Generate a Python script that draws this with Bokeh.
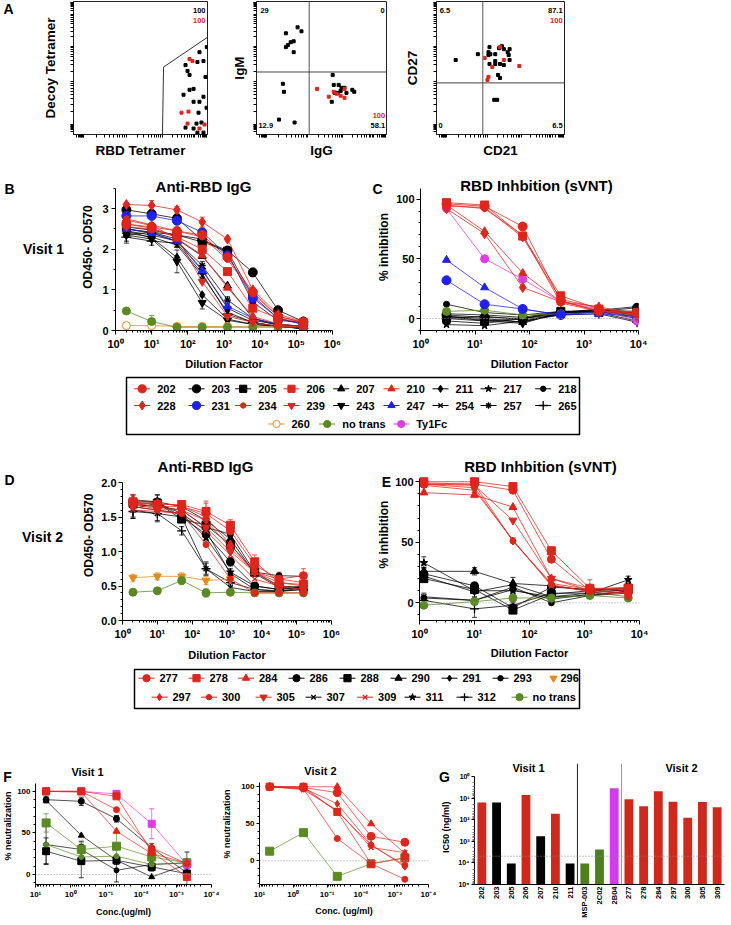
import math
from bokeh.plotting import figure
from bokeh.layouts import column, row
from bokeh.models import (Range1d, FixedTicker, Label, Span, Whisker, TeeHead,
                          ColumnDataSource)
from bokeh.core.properties import value
from bokeh.embed import file_html
from bokeh.resources import INLINE

FONT = "Liberation Sans"

# ============================ DATA ============================
# Panel A - flow cytometry events (arbitrary channel units, 0-1000)
A1_rbd_black = [995, 940, 970, 925, 836, 851, 866, 985, 896, 866, 821, 970, 896, 940, 993, 933, 918, 955, 836, 896, 925, 970]
A1_decoy_black = [657, 619, 552, 545, 522, 478, 448, 433, 343, 336, 299, 284, 246, 246, 201, 164, 82, 90, 52, 45, 14, 14]
A1_rbd_red = [866, 888, 806, 858, 851, 940, 978]
A1_decoy_red = [567, 552, 164, 172, 82, 45, 75]
A1_gate_x = [664, 672, 1000]
A1_gate_y = [0, 507, 731]
A1_pct = ["100", "100"]

A2_igg_black = [316, 346, 226, 286, 263, 241, 226, 286, 203, 211, 173, 293, 586, 594, 632, 654, 647, 624, 692, 737, 752, 602, 579, 677]
A2_igm_black = [806, 776, 761, 701, 694, 672, 657, 619, 381, 321, 112, 90, 448, 373, 373, 351, 328, 313, 313, 336, 321, 313, 246, 351]
A2_igg_red = [466, 594, 556, 617, 647, 677, 677]
A2_igm_red = [343, 321, 284, 306, 291, 276, 343]
A2_gate = (406, 470)
A2_pct = ["29", "0", "12.9", "58.1", "100"]

A3_cd21_black = [150, 323, 414, 406, 421, 406, 459, 489, 511, 526, 556, 571, 564, 571, 459, 414, 459, 496, 526, 481, 496, 451, 474]
A3_cd27_black = [560, 604, 657, 619, 604, 597, 604, 649, 664, 642, 619, 642, 597, 560, 552, 530, 530, 530, 522, 448, 425, 261, 261]
A3_cd21_red = [376, 436, 526, 647, 406, 398, 496]
A3_cd27_red = [575, 507, 560, 515, 433, 410, 657]
A3_gate = (361, 388)
A3_pct = ["6.5", "87.1", "100", "0", "6.5"]

# Panel B - Anti-RBD IgG, visit 1 (OD450-OD570)
B_dilution = [2, 10, 50, 250, 1250, 6250, 31250, 156250]
B_od = {
    "203": [2.97, 2.87, 2.76, 2.22, 1.97, 1.43, 0.50, 0.22],
    "205": [2.55, 2.47, 2.35, 2.18, 1.95, 0.85, 0.30, 0.15],
    "207": [2.50, 2.42, 2.25, 1.83, 1.10, 0.30, 0.12, 0.06],
    "211": [2.45, 2.28, 1.80, 0.88, 0.28, 0.15, 0.10, 0.05],
    "217": [2.50, 2.40, 2.20, 1.50, 0.55, 0.25, 0.15, 0.10],
    "218": [2.35, 2.42, 2.35, 2.25, 1.90, 0.70, 0.25, 0.20],
    "243": [2.35, 2.25, 1.70, 0.68, 0.25, 0.15, 0.10, 0.05],
    "254": [2.40, 2.30, 2.10, 1.35, 0.45, 0.20, 0.10, 0.05],
    "257": [2.45, 2.35, 2.20, 1.60, 0.75, 0.30, 0.15, 0.10],
    "265": [2.30, 2.20, 2.15, 1.40, 0.40, 0.20, 0.10, 0.05],
    "260": [0.12, 0.12, 0.10, 0.10, 0.10, 0.10, 0.10, 0.10],
    "no trans": [0.48, 0.22, 0.08, 0.08, 0.08, 0.08, 0.08, 0.08],
    "231": [2.82, 2.82, 2.70, 2.42, 1.85, 0.80, 0.30, 0.15],
    "247": [2.50, 2.40, 2.20, 1.47, 0.60, 0.30, 0.15, 0.10],
    "202": [2.62, 2.55, 2.45, 2.35, 1.80, 0.95, 0.35, 0.20],
    "206": [2.62, 2.52, 2.30, 2.00, 1.45, 0.55, 0.30, 0.20],
    "210": [2.72, 2.58, 2.27, 1.85, 1.05, 0.35, 0.16, 0.10],
    "228": [3.10, 3.08, 2.97, 2.67, 2.25, 1.00, 0.40, 0.22],
    "234": [2.75, 2.60, 2.45, 2.30, 1.75, 0.90, 0.35, 0.20],
    "239": [2.55, 2.50, 2.30, 1.20, 0.35, 0.20, 0.10, 0.10],
}
B_err = {
    "243": [0.20, 0.05, 0.28, 0.15, 0.05, 0.03, 0.02, 0.02],
    "203": [0.05, 0.10, 0.10, 0.10, 0.08, 0.10, 0.05, 0.05],
    "228": [0.05, 0.12, 0.08, 0.12, 0.05, 0.05, 0.03, 0.03],
    "no trans": [0.03, 0.15, 0.02, 0.02, 0.02, 0.02, 0.02, 0.02],
    "265": [0.10, 0.10, 0.10, 0.12, 0.10, 0.05, 0.03, 0.03],
    "257": [0.08, 0.08, 0.12, 0.10, 0.08, 0.05, 0.03, 0.08],
}

# Panel C - RBD inhibition (sVNT), visit 1 (%)
C_dilution = [3, 15, 75, 375, 1875, 9375]
C_inhib = {
    "203": [3, 1, 0, 5, 6, 9],
    "205": [0, -2, 0, 6, 5, 5],
    "207": [2, 0, -3, 4, 7, 6],
    "211": [1, -1, -3, 5, 8, 4],
    "217": [-5, -6, -2, 3, 6, 2],
    "218": [12, 5, 3, 6, 7, 10],
    "243": [2, -2, -4, 5, 7, 3],
    "254": [-2, -4, 0, 4, 6, 0],
    "257": [4, 3, 1, 6, 5, -2],
    "265": [0, 2, -1, 3, 4, -3],
    "no trans": [6, 7, 3, 4, 5, 3],
    "231": [32, 12, 8, 3, 6, 1],
    "247": [49, 26, 8, 3, 4, 2],
    "Ty1Fc": [92, 50, 33, 14, 8, -2],
    "202": [96, 94, 77, 15, 6, 5],
    "206": [97, 95, 69, 19, 8, 5],
    "210": [95, 73, 38, 14, 10, 3],
    "228": [92, 71, 26, 14, 7, 3],
    "234": [95, 92, 70, 13, 6, 4],
    "239": [94, 93, 68, 16, 9, 2],
}

# Panel D - Anti-RBD IgG, visit 2
D_dilution = [2, 10, 50, 250, 1250, 6250, 31250, 156250]
D_od = {
    "286": [1.72, 1.72, 1.50, 1.25, 0.85, 0.50, 0.45, 0.48],
    "288": [1.70, 1.70, 1.47, 1.38, 1.10, 0.70, 0.50, 0.48],
    "290": [1.75, 1.72, 1.65, 1.45, 1.18, 0.68, 0.48, 0.48],
    "291": [1.65, 1.60, 1.55, 1.30, 0.68, 0.45, 0.43, 0.45],
    "293": [1.68, 1.65, 1.60, 1.35, 1.25, 0.70, 0.65, 0.64],
    "307": [1.60, 1.55, 1.50, 0.75, 0.48, 0.42, 0.42, 0.45],
    "311": [1.62, 1.70, 1.55, 1.20, 0.70, 0.50, 0.45, 0.50],
    "312": [1.58, 1.55, 1.30, 0.75, 0.55, 0.45, 0.42, 0.48],
    "296": [0.62, 0.64, 0.64, 0.58, 0.60],
    "no trans": [0.41, 0.43, 0.58, 0.40, 0.41, 0.40, 0.40, 0.40],
    "277": [1.70, 1.65, 1.65, 1.55, 1.30, 0.80, 0.60, 0.65],
    "278": [1.72, 1.68, 1.68, 1.58, 1.38, 0.85, 0.55, 0.52],
    "284": [1.75, 1.70, 1.66, 1.50, 1.10, 0.70, 0.50, 0.45],
    "297": [1.68, 1.62, 1.60, 1.45, 1.05, 0.70, 0.55, 0.50],
    "300": [1.65, 1.60, 1.55, 1.10, 0.60, 0.40, 0.40, 0.40],
    "305": [1.70, 1.65, 1.60, 1.35, 1.00, 0.70, 0.60, 0.55],
    "309": [1.60, 1.58, 1.55, 1.30, 0.95, 0.60, 0.50, 0.45],
}
D_err = {
    "277": [0.12, 0.10, 0.06, 0.15, 0.08, 0.10, 0.10, 0.10],
    "278": [0.10, 0.08, 0.05, 0.15, 0.08, 0.10, 0.12, 0.10],
    "286": [0.10, 0.10, 0.05, 0.08, 0.06, 0.05, 0.05, 0.05],
    "307": [0.12, 0.10, 0.06, 0.10, 0.05, 0.05, 0.05, 0.05],
    "311": [0.12, 0.12, 0.05, 0.08, 0.05, 0.05, 0.05, 0.05],
    "312": [0.10, 0.12, 0.06, 0.08, 0.06, 0.05, 0.05, 0.05],
    "296": [0.05, 0.05, 0.05, 0.06, 0.05],
    "no trans": [0.04, 0.03, 0.06, 0.06, 0.05, 0.04, 0.04, 0.04],
}

# Panel E - RBD inhibition (sVNT), visit 2 (%)
E_dilution = [1.2, 10, 50, 250, 1250, 6250]
E_inhib = {
    "286": [24, 14, -4, 13, 11, 10],
    "288": [20, 11, -6, 7, 10, 12],
    "290": [26, 26, 16, 14, 10, 12],
    "291": [22, 9, 15, 5, 6, 8],
    "293": [4, 2, 13, 0, 6, 10],
    "307": [5, 2, 11, 3, 7, 9],
    "311": [33, 10, 10, 5, 8, 19],
    "312": [2, -5, -2, 8, 8, 11],
    "no trans": [-2, 1, 4, 4, 6, 4],
    "277": [98, 98, 93, 36, 10, 8],
    "278": [100, 100, 96, 43, 12, 12],
    "284": [91, 89, 79, 20, 12, 10],
    "297": [99, 98, 51, 16, 11, 13],
    "300": [98, 95, 51, 15, 9, 5],
    "305": [98, 97, 68, 20, 10, 8],
    "309": [97, 93, 52, 14, 10, 12],
}
E_err = {
    "311": [5, 5, 4, 4, 3, 3],
    "286": [5, 3, 4, 3, 3, 6],
    "312": [6, 7, 3, 3, 3, 3],
    "290": [3, 3, 5, 3, 3, 4],
    "278": [1, 1, 1, 3, 7, 2],
}

# Panel F - pseudovirus neutralization (%), concentration in ug/ml
F_conc = [5, 0.5, 0.05, 0.005, 0.0005]
F1_neut = {
    "black square": [28, 16, 17, 9, 1],
    "black dot": [36, 30, 5, 12, 14],
    "black triangle": [89, 47, 17, -3, 12],
    "black circle": [90, 88, 67, 32, 2],
    "green circle": [36, 21, 22, 12, 14],
    "green square": [62, 30, 34, 21, 14],
    "magenta square": [100, 100, 97, 61, 12],
    "red triangle": [100, 99, 52, 25, 14],
    "red circle": [100, 100, 78, 32, 13],
    "red square": [100, 100, 94, 27, -3],
}
F1_err = {
    "black circle": [4, 5, 4, 5, 5],
    "black square": [16, 20, 5, 5, 13],
    "black dot": [23, 10, 14, 3, 13],
    "green square": [11, 8, 16, 5, 5],
    "magenta square": [0, 0, 4, 18, 5],
}
F2_neut = {
    "green square": [13, 38, -21, -4, 4],
    "red circle b": [100, 97, 30, -4, -25],
    "red diamond": [100, 98, 77, 22, -8],
    "red circle c": [100, 98, 67, 21, -6],
    "red x": [100, 96, 68, 18, 11],
    "red circle a": [100, 99, 92, 33, 25],
    "red triangle": [100, 100, 100, 50, 10],
    "red square": [100, 100, 66, -4, 4],
}

# Panel G - IC50 (position on the printed log axis, in decades from the top label)
G_samples = ["202", "203", "205", "206", "207", "210", "211", "MSP-003", "2C02", "2B04",
             "277", "278", "284", "297", "300", "305", "309"]
G_ic50_decade = [1.20, 1.20, 4.03, 0.86, 2.77, 1.72, 4.03, 4.03, 3.38, 0.55,
                 1.05, 1.38, 0.69, 1.17, 1.91, 1.18, 1.43]
G_class = ["neut", "non", "non", "neut", "non", "neut", "non", "ctrl", "ctrl", "Ty1Fc",
           "neut", "neut", "neut", "neut", "neut", "neut", "neut"]
G_group = ["Visit 1"] * 7 + ["control"] * 3 + ["Visit 2"] * 7
G_limit_decade = 3.69

# ============================ STYLE ============================
RED = "#e1251b"
BLACK = "#000000"
BLUE = "#2020f2"
GREEN = "#5a8a22"
ORANGE = "#e8891c"
MAGENTA = "#e03ce6"

V1_STYLE = {
    "202": ("circle", RED, 9, True), "203": ("circle", BLACK, 9, True),
    "205": ("square", BLACK, 8, True), "206": ("square", RED, 8, True),
    "207": ("triangle", BLACK, 8, True), "210": ("triangle", RED, 8, True),
    "211": ("diamond", BLACK, 8, True), "217": ("star", BLACK, 8, True),
    "218": ("circle", BLACK, 6, True), "228": ("diamond", RED, 10, True),
    "231": ("circle", BLUE, 9, True), "234": ("circle", RED, 6, True),
    "239": ("inverted_triangle", RED, 8, True), "243": ("inverted_triangle", BLACK, 8, True),
    "247": ("triangle", BLUE, 8, True), "254": ("x", BLACK, 7, True),
    "257": ("asterisk", BLACK, 7, True), "265": ("cross", BLACK, 10, True),
    "260": ("circle", ORANGE, 8, False), "no trans": ("circle", GREEN, 8, True),
    "Ty1Fc": ("circle", MAGENTA, 8, True),
}
V2_STYLE = {
    "277": ("circle", RED, 8, True), "278": ("square", RED, 8, True),
    "284": ("triangle", RED, 8, True), "286": ("circle", BLACK, 8, True),
    "288": ("square", BLACK, 8, True), "290": ("triangle", BLACK, 8, True),
    "291": ("diamond", BLACK, 7, True), "293": ("circle", BLACK, 6, True),
    "296": ("inverted_triangle", ORANGE, 8, True), "297": ("diamond", RED, 8, True),
    "300": ("circle", RED, 6, True), "305": ("inverted_triangle", RED, 8, True),
    "307": ("x", BLACK, 7, True), "309": ("x", RED, 7, True),
    "311": ("star", BLACK, 8, True), "312": ("cross", BLACK, 9, True),
    "no trans": ("circle", GREEN, 8, True),
}
F_STYLE = {
    "black square": ("square", BLACK, 7, True), "black dot": ("circle", BLACK, 5, True),
    "black triangle": ("triangle", BLACK, 6, True), "black circle": ("circle", BLACK, 6, True),
    "green circle": ("circle", GREEN, 5, True), "green square": ("square", GREEN, 8, True),
    "magenta square": ("square", MAGENTA, 7, True), "red triangle": ("triangle", RED, 7, True),
    "red circle": ("circle", RED, 6, True), "red square": ("square", RED, 7, True),
    "red circle a": ("circle", RED, 8, True), "red circle b": ("circle", RED, 6, True),
    "red circle c": ("circle", RED, 6, True), "red diamond": ("diamond", RED, 7, True),
    "red x": ("x", RED, 7, True),
}
G_COLOR = {"neut": "#d3271c", "non": "#000000", "ctrl": "#4f7f1a", "Ty1Fc": "#d23bef"}

SUP = str.maketrans("-0123456789", "⁻⁰¹²³⁴⁵⁶⁷⁸⁹")


def pow10(n):
    return "10" + str(n).translate(SUP)


def log_minor(d0, d1):
    return [k * 10 ** d for d in range(d0, d1) for k in range(2, 10)]


class Panel:
    """A figure whose frame sits at a given page-pixel box (page origin = top-left)."""

    def __init__(self, box, frame, xr, yr, xlog=False, ylog=False, outline=False, axes=True):
        self.box, self.frame, self.xr, self.yr = box, frame, xr, yr
        self.xlog, self.ylog = xlog, ylog
        bx0, by0, bx1, by1 = box
        fx0, fy0, fx1, fy1 = frame
        kw = {}
        if not axes:
            kw = dict(x_axis_location=None, y_axis_location=None)
        self.p = figure(width=bx1 - bx0, height=by1 - by0,
                        x_range=Range1d(*xr), y_range=Range1d(*yr),
                        x_axis_type="log" if xlog else "linear",
                        y_axis_type="log" if ylog else "linear",
                        min_border_left=fx0 - bx0, min_border_right=bx1 - fx1,
                        min_border_top=fy0 - by0, min_border_bottom=by1 - fy1,
                        toolbar_location=None, output_backend="svg", **kw)
        p = self.p
        p.xgrid.visible = False
        p.ygrid.visible = False
        p.outline_line_color = "#222222" if outline else None
        p.outline_line_width = 1
        p.background_fill_color = "white"
        p.border_fill_color = "white"

    def to_data(self, px, py):
        fx0, fy0, fx1, fy1 = self.frame
        tx = (px - fx0) / (fx1 - fx0)
        ty = (fy1 - py) / (fy1 - fy0)

        def interp(t, r, lg):
            a, b = r
            if lg:
                return 10 ** (math.log10(a) + t * (math.log10(b) - math.log10(a)))
            return a + t * (b - a)
        return interp(tx, self.xr, self.xlog), interp(ty, self.yr, self.ylog)

    def text(self, px, py, txt, size, color="black", align="center", angle=0.0, bold=True):
        x, y = self.to_data(px, py)
        self.p.add_layout(Label(x=x, y=y, text=txt, text_font=FONT, text_font_size=size,
                                text_font_style="bold" if bold else "normal",
                                text_color=color, text_align=align,
                                text_baseline="middle", angle=angle))


def strip(box):
    """Text-only figure covering a page box; its data coordinates are page pixels."""
    return Panel(box, box, (box[0], box[2]), (box[3], box[1]), axes=False)


def style_axis(ax, ticks, minor, labels=None, size="11px", tick_out=4, minor_out=2, standoff=3):
    ax.ticker = FixedTicker(ticks=ticks, minor_ticks=minor)
    if labels:
        ax.major_label_overrides = labels
    ax.major_label_text_font = FONT
    ax.major_label_text_font_style = "bold"
    ax.major_label_text_font_size = size
    ax.major_label_text_color = "black"
    ax.major_label_standoff = standoff
    ax.axis_line_color = "black"
    ax.axis_line_width = 1
    ax.major_tick_in = 0
    ax.major_tick_out = tick_out
    ax.minor_tick_in = 0
    ax.minor_tick_out = minor_out
    ax.major_tick_line_color = "black"
    ax.minor_tick_line_color = "black"


def axis_title(ax, text, size, standoff):
    ax.axis_label = text
    ax.axis_label_text_font = FONT
    ax.axis_label_text_font_size = size
    ax.axis_label_text_font_style = "bold"
    ax.axis_label_text_color = "black"
    ax.axis_label_standoff = standoff


def add_err(p, xs, ys, es, color):
    src = ColumnDataSource(dict(x=list(xs), lo=[y - e for y, e in zip(ys, es)],
                                hi=[y + e for y, e in zip(ys, es)]))
    p.add_layout(Whisker(source=src, base="x", lower="lo", upper="hi",
                         line_color=color, line_width=0.8, line_alpha=0.8,
                         upper_head=TeeHead(size=5, line_color=color, line_width=0.8),
                         lower_head=TeeHead(size=5, line_color=color, line_width=0.8)))


def draw_series(p, xs, ys, style, err=None, lw=0.9):
    marker, color, size, filled = style
    xs = list(xs)[:len(ys)]
    p.line(xs, ys, line_color=color, line_width=lw, line_alpha=0.85)
    if err is not None:
        add_err(p, xs, ys, err, color)
    thin = marker in ("x", "cross", "asterisk")
    p.scatter(xs, ys, marker=marker, size=size,
              fill_color=color if filled else "white", line_color=color,
              line_width=1.3 if thin else 1)


# ============================ PANEL A ============================
FLOW_MAJOR = [75, 396, 664, 903]
FLOW_MINOR = [a + (b - a) * math.log10(k) for a, b in zip([0] + FLOW_MAJOR[:-1], FLOW_MAJOR)
              for k in range(2, 10)] + [903 + 97 * math.log10(k) for k in range(2, 10)]


def flow_panel(box, frame, xlabel, ylabel, ystand):
    pan = Panel(box, frame, (0, 1000), (0, 1000), outline=True)
    for ax in (pan.p.xaxis[0], pan.p.yaxis[0]):
        style_axis(ax, [], FLOW_MAJOR + FLOW_MINOR, tick_out=0, minor_out=3, standoff=0)
        ax.axis_line_color = "#222222"
    axis_title(pan.p.xaxis[0], xlabel, "13.5px", 5)
    axis_title(pan.p.yaxis[0], ylabel, "13.5px", ystand)
    return pan


def flow_dots(p, xb, yb, xr, yr):
    p.scatter(xb, yb, marker="square", size=3, fill_color="black", line_color="black")
    p.scatter(xr, yr, marker="square", size=3, fill_color=RED, line_color=RED)


def ptext(p, x, y, t, color="black", align="left"):
    p.text(x=[x], y=[y], text=[t], text_font=value(FONT), text_font_size="7.5px",
           text_font_style="bold", text_color=color, text_align=align, text_baseline="middle")


SA = strip((0, 0, 20, 160))
SA.text(8, 9, "A", "14px")

A1 = flow_panel((20, 0, 228, 160), (73, 1, 207, 134), "RBD Tetramer", "Decoy Tetramer", 13)
A1.p.line(A1_gate_x, A1_gate_y, line_color="#333333", line_width=1)
flow_dots(A1.p, A1_rbd_black, A1_decoy_black, A1_rbd_red, A1_decoy_red)
ptext(A1.p, 985, 933, A1_pct[0], align="right")
ptext(A1.p, 985, 858, A1_pct[1], color=RED, align="right")

A2 = flow_panel((228, 0, 401, 160), (253, 1, 386, 134), "IgG", "IgM", 7)
A2.p.add_layout(Span(location=A2_gate[0], dimension="height", line_color="#8a8a8a", line_width=1.5))
A2.p.add_layout(Span(location=A2_gate[1], dimension="width", line_color="#444444", line_width=1))
flow_dots(A2.p, A2_igg_black, A2_igm_black, A2_igg_red, A2_igm_red)
ptext(A2.p, 30, 935, A2_pct[0])
ptext(A2.p, 985, 935, A2_pct[1], align="right")
ptext(A2.p, 15, 67, A2_pct[2])
ptext(A2.p, 990, 67, A2_pct[3], align="right")
ptext(A2.p, 990, 142, A2_pct[4], color=RED, align="right")

A3 = flow_panel((401, 0, 731, 160), (431, 1, 564, 134), "CD21", "CD27", 14)
A3.p.add_layout(Span(location=A3_gate[0], dimension="height", line_color="#8a8a8a", line_width=1.5))
A3.p.add_layout(Span(location=A3_gate[1], dimension="width", line_color="#444444", line_width=1))
flow_dots(A3.p, A3_cd21_black, A3_cd27_black, A3_cd21_red, A3_cd27_red)
ptext(A3.p, 25, 935, A3_pct[0])
ptext(A3.p, 985, 935, A3_pct[1], align="right")
ptext(A3.p, 985, 858, A3_pct[2], color=RED, align="right")
ptext(A3.p, 15, 67, A3_pct[3])
ptext(A3.p, 985, 67, A3_pct[4], align="right")

# ============================ PANEL B ============================
SB = strip((0, 160, 95, 372))
SB.text(9, 182, "B", "14px")
SB.text(43, 262, "Visit 1", "14px")
SB.text(87, 260, "OD450- OD570", "12px", angle=math.pi / 2)

B = Panel((95, 160, 370, 372), (115, 172, 332, 332), (1, 1e6), (0, 3.5 + 16 / 41.14), xlog=True)
style_axis(B.p.xaxis[0], [10 ** n for n in range(0, 7)], log_minor(0, 6),
           {10 ** n: pow10(n) for n in range(0, 7)})
style_axis(B.p.yaxis[0], [0, 1, 2, 3], [0.5, 1.5, 2.5, 3.5], {0: "0", 1: "1", 2: "2", 3: "3"})
B.p.yaxis[0].bounds = (0, 3.5)
axis_title(B.p.xaxis[0], "Dilution Factor", "11px", 5)
for sid, vals in B_od.items():
    draw_series(B.p, B_dilution, vals, V1_STYLE[sid], B_err.get(sid))
B.text(203, 186, "Anti-RBD IgG", "15px")

# ============================ PANEL C ============================
SC = strip((370, 160, 393, 372))
SC.text(377, 182, "C", "14px")
SC.text(383, 260, "% inhibition", "12px", angle=math.pi / 2)

C = Panel((393, 160, 731, 372), (420, 172, 638, 332), (1, 1e4), (-10, 109 + 16 / 1.21), xlog=True)
style_axis(C.p.xaxis[0], [10 ** n for n in range(0, 5)], log_minor(0, 4),
           {10 ** n: pow10(n) for n in range(0, 5)})
style_axis(C.p.yaxis[0], [0, 50, 100], [-10, 10, 20, 30, 40, 60, 70, 80, 90],
           {0: "0", 50: "50", 100: "100"}, standoff=2)
C.p.yaxis[0].bounds = (-10, 109)
axis_title(C.p.xaxis[0], "Dilution Factor", "11px", 5)
C.p.add_layout(Span(location=0, dimension="width", line_color="#9a9a9a", line_dash="1 2", line_width=1))
for sid, vals in C_inhib.items():
    draw_series(C.p, C_dilution, vals, V1_STYLE[sid])
C.text(536, 185, "RBD Inhbition (sVNT)", "15px")

# ============================ LEGEND 1 ============================
L1 = strip((0, 372, 731, 445))
L1.p.quad(left=[126], right=[579], top=[377], bottom=[434], fill_color=None,
          line_color="black", line_width=1.5)
L1_rows = [["202", "203", "205", "206", "207", "210", "211", "217", "218"],
           ["228", "231", "234", "239", "243", "247", "254", "257", "265"],
           ["260", "no trans", "Ty1Fc"]]
L1_cols = [[141.7, 196, 242.7, 291, 340.7, 391, 440, 488, 542.7],
           [141.7, 196, 242.7, 291, 340.7, 391, 440, 488, 542.7],
           [276, 326.7, 400.7]]
L1_y = [388.3, 405, 423.5]


def legend_entries(pan, rows, cols, ys, styles, fsize, off=15, no_line=()):
    for names, xs, y in zip(rows, cols, ys):
        for name, mx in zip(names, xs):
            marker, color, size, filled = styles[name]
            if name not in no_line:
                pan.p.line([mx - 8, mx + 8], [y, y], line_color=color, line_width=1)
            thin = marker in ("x", "cross", "asterisk")
            pan.p.scatter([mx], [y], marker=marker, size=size * 0.9,
                          fill_color=color if filled else "white", line_color=color,
                          line_width=1.3 if thin else 1)
            pan.p.text(x=[mx + (7 if name in no_line else off)], y=[y], text=[name],
                       text_font=value(FONT), text_font_size=fsize, text_font_style="bold",
                       text_align="left", text_baseline="middle", text_color="black")


legend_entries(L1, L1_rows, L1_cols, L1_y, V1_STYLE, "11px")

# ============================ PANEL D ============================
SD = strip((0, 445, 96, 664))
SD.text(9, 478, "D", "14px")
SD.text(42, 553, "Visit 2", "14px")
SD.text(88, 551, "OD450- OD570", "12px", angle=math.pi / 2)

D = Panel((96, 445, 370, 664), (122, 455, 331, 620), (1, 1e6), (0, 2.0 + 27 / 69), xlog=True)
style_axis(D.p.xaxis[0], [10 ** n for n in range(0, 7)], log_minor(0, 6),
           {10 ** n: pow10(n) for n in range(0, 7)})
style_axis(D.p.yaxis[0], [0, 0.5, 1.0, 1.5, 2.0], [0.1 * k for k in range(1, 20) if k % 5],
           {0: "0.0", 0.5: "0.5", 1.0: "1.0", 1.5: "1.5", 2.0: "2.0"}, standoff=2)
D.p.yaxis[0].bounds = (0, 2.0)
axis_title(D.p.xaxis[0], "Dilution Factor", "11px", 6)
for sid, vals in D_od.items():
    draw_series(D.p, D_dilution, vals, V2_STYLE[sid], D_err.get(sid))
D.text(205, 466, "Anti-RBD IgG", "15px")

# ============================ PANEL E ============================
SE = strip((370, 445, 392, 664))
SE.text(386, 480, "E", "14px")
SE.text(383, 550, "% inhibition", "12px", angle=math.pi / 2)

E = Panel((392, 445, 731, 664), (417, 455, 639, 623), (1, 1e4), (-14.6, 103 + 23 / 1.233), xlog=True)
style_axis(E.p.xaxis[0], [10 ** n for n in range(0, 5)], log_minor(0, 4),
           {10 ** n: pow10(n) for n in range(0, 5)})
style_axis(E.p.yaxis[0], [0, 50, 100], [-10, 10, 20, 30, 40, 60, 70, 80, 90],
           {0: "0", 50: "50", 100: "100"}, standoff=2)
E.p.yaxis[0].bounds = (-14.6, 103)
axis_title(E.p.xaxis[0], "Dilution Factor", "11px", 4)
E.p.add_layout(Span(location=0, dimension="width", line_color="#9a9a9a", line_dash="1 2", line_width=1))
for sid, vals in E_inhib.items():
    draw_series(E.p, E_dilution, vals, V2_STYLE[sid], E_err.get(sid))
E.text(539, 466, "RBD Inhbition (sVNT)", "15px")

# ============================ LEGEND 2 ============================
L2 = strip((0, 664, 731, 720))
L2.p.quad(left=[134], right=[579], top=[669], bottom=[708], fill_color=None,
          line_color="black", line_width=1.5)
L2_rows = [["277", "278", "284", "286", "288", "290", "291", "293", "296"],
           ["297", "300", "305", "307", "309", "311", "312", "no trans"]]
L2_cols = [[146, 196, 245.5, 296, 347, 398, 449, 500, 553],
           [159, 208.5, 263, 313, 364.6, 412, 464, 519]]
L2_y = [677.7, 696.7]
legend_entries(L2, L2_rows, L2_cols, L2_y, V2_STYLE, "11px", off=13, no_line=("296",))

# ============================ PANEL F ============================
F_TICKS = [10 ** n for n in range(1, -5, -1)]
F_LABELS = {10 ** n: pow10(n) for n in range(1, -5, -1)}

SF = strip((0, 720, 14, 925))
SF.text(7, 743, "F", "14px")
SF.text(7, 826, "% neutralization", "9px", angle=math.pi / 2)

F1 = Panel((14, 720, 219, 925), (35, 748, 211, 884), (10, 1e-4), (-12.1, 108.9 + 23 / 0.934), xlog=True)
style_axis(F1.p.xaxis[0], F_TICKS, log_minor(-4, 1), F_LABELS, size="8px", tick_out=3, standoff=2)
style_axis(F1.p.yaxis[0], [0, 50, 100], [-10, 10, 20, 30, 40, 60, 70, 80, 90],
           {0: "0", 50: "50", 100: "100"}, size="8px", tick_out=3, standoff=2)
F1.p.yaxis[0].bounds = (-12.1, 108.9)
axis_title(F1.p.xaxis[0], "Conc.(ug/ml)", "9px", 5)
F1.p.add_layout(Span(location=0, dimension="width", line_color="#9a9a9a", line_dash="1 2", line_width=1))
for sid, vals in F1_neut.items():
    draw_series(F1.p, F_conc, vals, F_STYLE[sid], F1_err.get(sid), lw=0.8)
F1.text(87, 757, "Visit 1", "11px")

F2 = Panel((219, 720, 436, 925), (256, 748, 428, 887), (10, 1e-4), (-32, 105.5 + 22 / 0.85), xlog=True)
style_axis(F2.p.xaxis[0], F_TICKS, log_minor(-4, 1), F_LABELS, size="8px", tick_out=3, standoff=2)
style_axis(F2.p.yaxis[0], [0, 50, 100], [-30, -20, -10, 10, 20, 30, 40, 60, 70, 80, 90],
           {0: "0", 50: "50", 100: "100"}, size="8px", tick_out=3, standoff=2)
F2.p.yaxis[0].bounds = (-32, 105.5)
axis_title(F2.p.xaxis[0], "Conc. (ug/ml)", "9px", 4)
axis_title(F2.p.yaxis[0], "% neutralization", "9px", 6)
F2.p.add_layout(Span(location=0, dimension="width", line_color="#9a9a9a", line_dash="1 2", line_width=1))
for sid, vals in F2_neut.items():
    draw_series(F2.p, F_conc, vals, F_STYLE[sid], lw=0.8)
F2.text(318, 757, "Visit 2", "11px")

# ============================ PANEL G ============================
SG = strip((436, 720, 452, 925))
SG.text(444, 743, "G", "14px")
SG.text(445, 828, "IC50 (ng/ml)", "9px", angle=math.pi / 2)

n_g = len(G_samples)
G = Panel((452, 720, 731, 925), (474, 763, 724, 884), (-0.5, n_g - 0.5), (5, -0.6))
style_axis(G.p.xaxis[0], list(range(n_g)), [], {i: s for i, s in enumerate(G_samples)},
           size="7.5px", tick_out=0, minor_out=0, standoff=2)
G.p.xaxis[0].major_label_orientation = math.pi / 2
style_axis(G.p.yaxis[0], [0, 1, 2, 3, 4, 5],
           [d + math.log10(k) for d in range(5) for k in range(2, 10)],
           {d: pow10(d) for d in range(6)}, size="7px", tick_out=3, minor_out=2, standoff=2)
G.p.yaxis[0].bounds = (0, 5)
G.p.yaxis[0].minor_tick_line_color = "#777777"
G.p.vbar(x=list(range(n_g)), width=0.6, bottom=5, top=G_ic50_decade,
         fill_color=[G_COLOR[c] for c in G_class], line_color=None)
G.p.add_layout(Span(location=G_limit_decade, dimension="width", line_color="#8a8a8a",
                    line_dash="1 2", line_width=1))
sep1 = G_group.index("control") - 0.5
sep2 = G_group.index("Visit 2") - 0.5
G.p.segment(x0=[sep1, sep2], y0=[5, 5], x1=[sep1, sep2], y1=[-0.6, -0.6],
            line_color=["#222222", "#999999"], line_width=1)
G.text(528, 767, "Visit 1", "11px")
G.text(681, 767, "Visit 2", "11px")

layout = column(
    row(SA.p, A1.p, A2.p, A3.p),
    row(SB.p, B.p, SC.p, C.p),
    L1.p,
    row(SD.p, D.p, SE.p, E.p),
    L2.p,
    row(SF.p, F1.p, F2.p, SG.p, G.p),
)

with open("out.html", "w") as f:
    f.write(file_html(layout, INLINE))
